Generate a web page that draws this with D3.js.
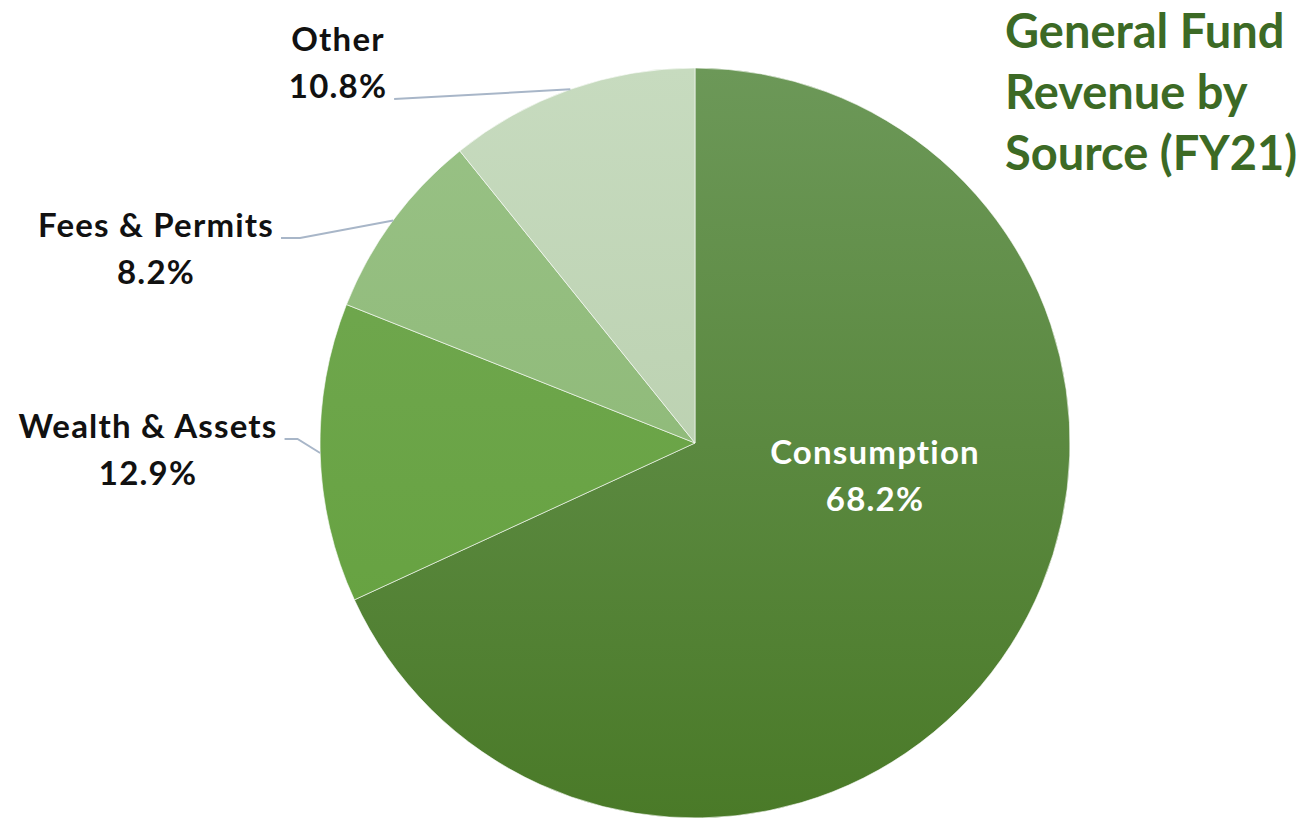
<!DOCTYPE html>
<html>
<head>
<meta charset="utf-8">
<script src="https://cdn.jsdelivr.net/npm/d3@7"></script>
<style>
  html, body { margin: 0; padding: 0; background: #fff; }
  svg { display: block; }
  text { font-family: Lato, "Open Sans", sans-serif; font-weight: bold; }
</style>
</head>
<body>
<script>
// data
var categories = ["Consumption", "Wealth & Assets", "Fees & Permits", "Other"];
var shares = [68.2, 12.9, 8.2, 10.8];
var titleLines = ["General Fund", "Revenue by", "Source (FY21)"];

// gradient stops per slice (top, bottom)
var sliceColors = [
  ["#6c9858", "#4a7a28"],
  ["#74a955", "#62a03a"],
  ["#99c286", "#88b46f"],
  ["#c7dbbf", "#b2c9a5"]
];

var width = 1301, height = 819;
var cx = 695, cy = 443, radius = 375;

var svg = d3.select("body").append("svg")
  .attr("width", width)
  .attr("height", height);

var chart = svg.append("g")
  .attr("transform", "translate(" + cx + "," + cy + ")");

var defs = svg.append("defs");
sliceColors.forEach(function(c, i) {
  var g = defs.append("linearGradient")
    .attr("id", "grad" + i)
    .attr("gradientUnits", "userSpaceOnUse")
    .attr("x1", 0).attr("y1", -radius)
    .attr("x2", 0).attr("y2", radius);
  g.append("stop").attr("offset", "0%").attr("stop-color", c[0]);
  g.append("stop").attr("offset", "100%").attr("stop-color", c[1]);
});

var data = categories.map(function(name, i) {
  return {name: name, value: shares[i], index: i};
});

var pie = d3.pie()
  .sort(null)
  .value(function(d) { return d.value; });

var arc = d3.arc()
  .innerRadius(0)
  .outerRadius(radius);

var arcs = pie(data);

chart.selectAll("path.slice")
  .data(arcs)
  .enter()
  .append("path")
  .attr("class", "slice")
  .attr("d", arc)
  .attr("fill", function(d) { return "url(#grad" + d.data.index + ")"; })
  .attr("stroke", "rgba(255,255,255,0.6)")
  .attr("stroke-width", 1);

// label layout relative to pie centre: text centre x, first baseline y,
// which line the leader attaches to, and horizontal elbow length
var labelLayout = {
  "Consumption":     {x: 180,  y: 21,   inside: true},
  "Wealth & Assets": {x: -547, y: -5,   line: 0, elbow: 13},
  "Fees & Permits":  {x: -539, y: -206, line: 0, elbow: 19},
  "Other":           {x: -357, y: -392, line: 1, elbow: 0}
};

var lineHeight = 47;

function edgePoint(d) {
  var a = (d.startAngle + d.endAngle) / 2;
  return [Math.sin(a) * radius, -Math.cos(a) * radius];
}

var labels = chart.selectAll("g.label")
  .data(arcs)
  .enter()
  .append("g")
  .attr("class", "label");

labels.each(function(d) {
  var g = d3.select(this);
  var lay = labelLayout[d.data.name];
  var inside = !!lay.inside;
  var t = g.append("text")
    .attr("text-anchor", "middle")
    .attr("font-size", 33)
    .attr("letter-spacing", 1.2)
    .attr("fill", inside ? "#ffffff" : "#111111");
  var lines = [d.data.name, d3.format(".1f")(d.data.value) + "%"];
  t.selectAll("tspan")
    .data(lines)
    .enter()
    .append("tspan")
    .attr("x", lay.x)
    .attr("y", function(s, i) { return lay.y + i * lineHeight; })
    .text(function(s) { return s; });

  if (!inside) {
    var tw = t.selectAll("tspan").nodes()[lay.line].getComputedTextLength();
    var startX = lay.x + tw / 2 + 7;
    var startY = lay.y + lay.line * lineHeight + 1;
    var p = edgePoint(d);
    var pts = [[startX, startY], [startX + lay.elbow, startY], p];
    g.insert("path", "text")
      .attr("d", d3.line()(pts))
      .attr("fill", "none")
      .attr("stroke", "#a8b6c8")
      .attr("stroke-width", 2);
  }
});

// title
var title = svg.append("text")
  .attr("x", 1005)
  .attr("y", 48)
  .attr("font-size", 47)
  .attr("fill", "#3c6a25");
title.selectAll("tspan")
  .data(titleLines)
  .enter()
  .append("tspan")
  .attr("x", 1005)
  .attr("dy", function(d, i) { return i === 0 ? 0 : 61; })
  .text(function(d) { return d; });
</script>
</body>
</html>
